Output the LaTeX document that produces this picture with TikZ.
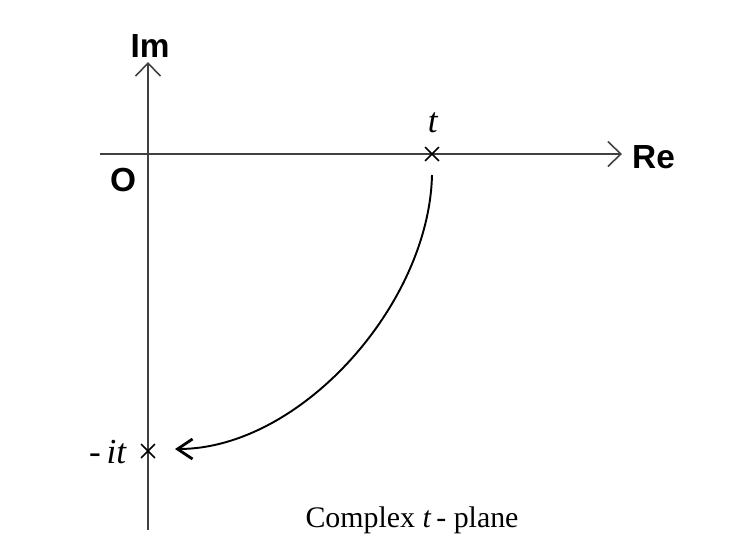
\documentclass[tikz,border=0pt]{standalone}
\usepackage{fontspec}
\setmainfont{Liberation Serif}
\setsansfont{Liberation Sans}
\usetikzlibrary{arrows.meta,shapes.misc}

\tikzset{
  axis/.style={line width=0.9pt, black!75, -{Straight Barb[length=2.6mm,width=5mm]}},
  axislabel/.style={font=\sffamily\bfseries\fontsize{19}{19}\selectfont},
  mark point/.style={cross out, draw, line width=0.9pt, minimum size=7pt, inner sep=0pt},
  path arrow/.style={line width=1.1pt, -{Straight Barb[length=3mm,width=4mm,line width=1.6pt]}}
}

\begin{document}
\begin{tikzpicture}[x=0.02cm, y=-0.02cm]
      \useasboundingbox (0,0) rectangle (748,535);
      % axes
      \coordinate (xstart) at (100,154);
      \coordinate (xend) at (622,154);
      \coordinate (ystart) at (148,530);
      \coordinate (yend) at (148,62);
      \draw[axis] (xstart) -- (xend);
      \draw[axis] (ystart) -- (yend);
      \node[axislabel] (im) at (150,46) {Im};
      \node[axislabel, anchor=west] (re) at (626,157) {Re};
      \node[font=\sffamily\bfseries\fontsize{19}{19}\selectfont] (origin) at (123,180) {O};
      % points
      \node[mark point] (tpt) at (432,154) {};
      \node[font=\fontsize{20}{20}\selectfont] (tlabel) at (433,123) {\textit{t}};
      \node[mark point] (itpt) at (148,451) {};
      \node[font=\fontsize{20}{20}\selectfont, anchor=east] (itlabel) at (133,452) {-\,\textit{it}};
      % rotation path
      \coordinate (arcstart) at (432,175);
      \coordinate (arcend) at (175,449);
      \draw[path arrow] (arcstart) .. controls (429,305) and (300,449) .. (arcend);
      \node[font=\fontsize{17}{17}\selectfont] (caption) at (412,520) {Complex \textit{t}\,- plane};
    \end{tikzpicture}
\end{document}
